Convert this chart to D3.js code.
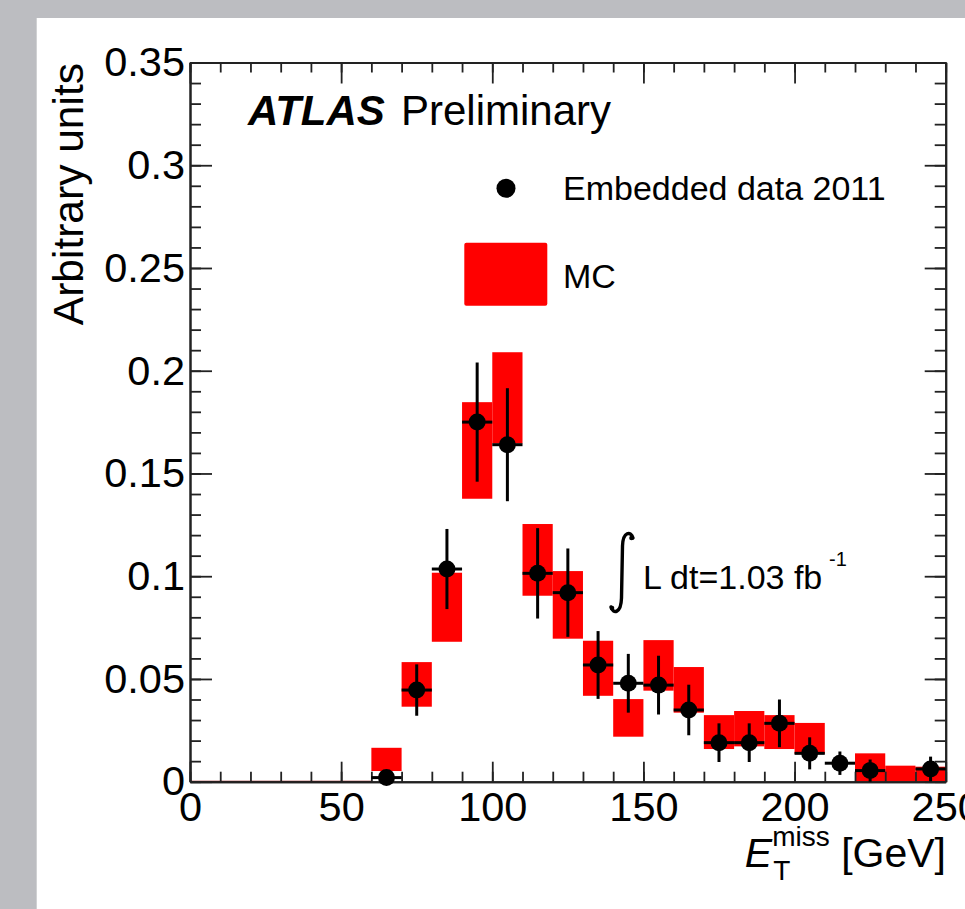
<!DOCTYPE html>
<html><head><meta charset="utf-8">
<script src="https://cdn.jsdelivr.net/npm/d3@7/dist/d3.min.js"></script>
<style>
body{margin:0;background:#bcbdc1;overflow:hidden}
svg{display:block}
text{font-family:"Liberation Sans",Arial,Helvetica,sans-serif;fill:#000}
</style>
</head><body>
<svg id="c" width="965" height="909"></svg>
<script>
// ---- data ----
const binLow      = [60, 70, 80, 90, 100, 110, 120, 130, 140, 150, 160, 170, 180, 190, 200, 210, 220, 230, 240];
const binWidth    = 10;
const dataValues  = [0.002, 0.0446, 0.1035, 0.175, 0.164, 0.1014, 0.092, 0.0568, 0.0479, 0.047, 0.0349, 0.019, 0.019, 0.0284, 0.0138, 0.009, 0.0054, null, 0.0062];
const dataErrors  = [0.001, 0.0125, 0.0195, 0.029, 0.0275, 0.022, 0.0215, 0.0165, 0.0143, 0.0143, 0.0123, 0.0094, 0.0094, 0.0116, 0.0078, 0.0057, 0.0054, null, 0.006];
const mcLow       = [0.0052, 0.0365, 0.0681, 0.1377, 0.1646, 0.0905, 0.0696, 0.0418, 0.0219, 0.0443, 0.0336, 0.0159, 0.0172, 0.0159, 0.0135, null, 0, 0, 0];
const mcHigh      = [0.0165, 0.0582, 0.1017, 0.1847, 0.209, 0.1254, 0.1025, 0.0686, 0.0402, 0.0689, 0.0558, 0.0324, 0.0344, 0.0324, 0.0286, null, 0.0138, 0.0078, 0.0073];
const emptyRange  = [0, 60];
const xTickValues = [0, 50, 100, 150, 200, 250];
const xTickLabels = ["0", "50", "100", "150", "200", "250"];
const yTickValues = [0, 0.05, 0.1, 0.15, 0.2, 0.25, 0.3, 0.35];
const yTickLabels = ["0", "0.05", "0.1", "0.15", "0.2", "0.25", "0.3", "0.35"];
const xMinorTicks = d3.range(0, 251, 10);
const yMinorTicks = d3.range(0, 0.351, 0.01);

// ---- layout ----
const svg = d3.select("#c");
const L = 190, R = 945.7, T = 62.5, B = 781.7;
const x = d3.scaleLinear().domain([0, 250]).range([L, R]);
const y = d3.scaleLinear().domain([0, 0.35]).range([B, T]);

// white panel
svg.append("rect").attr("x", 36.7).attr("y", 18).attr("width", 965).attr("height", 909).attr("fill", "#fff");

// MC band
const bins = binLow.map((lo, i) => ({lo, d: dataValues[i], e: dataErrors[i], ml: mcLow[i], mh: mcHigh[i]}));
svg.append("line").attr("x1", x(emptyRange[0])).attr("x2", x(emptyRange[1]))
  .attr("y1", y(0)).attr("y2", y(0)).attr("stroke", "#8b0000").attr("stroke-width", 2);
svg.append("g").selectAll("rect").data(bins.filter(b => b.mh != null)).join("rect")
  .attr("x", b => x(b.lo)).attr("width", b => x(b.lo + binWidth) - x(b.lo))
  .attr("y", b => y(b.mh)).attr("height", b => y(b.ml) - y(b.mh))
  .attr("fill", "#ff0000");

// axes (ROOT style: ticks inside, on all four sides)
function styleAxis(g) {
  g.select(".domain").attr("stroke", "#222").attr("stroke-width", 2);
  g.selectAll(".tick line").attr("stroke", "#222").attr("stroke-width", 1.8);
  g.selectAll(".tick text").attr("font-size", 41.5).attr("font-family", "Liberation Sans, Arial, sans-serif").attr("fill", "#000");
}
// minor
svg.append("g").attr("transform", `translate(0,${B})`)
  .call(d3.axisBottom(x).tickValues(xMinorTicks).tickSize(-10).tickFormat("").tickSizeOuter(0)).call(styleAxis);
svg.append("g").attr("transform", `translate(0,${T})`)
  .call(d3.axisTop(x).tickValues(xMinorTicks).tickSize(-10).tickFormat("").tickSizeOuter(0)).call(styleAxis);
svg.append("g").attr("transform", `translate(${L},0)`)
  .call(d3.axisLeft(y).tickValues(yMinorTicks).tickSize(-11).tickFormat("").tickSizeOuter(0)).call(styleAxis);
svg.append("g").attr("transform", `translate(${R},0)`)
  .call(d3.axisRight(y).tickValues(yMinorTicks).tickSize(-11).tickFormat("").tickSizeOuter(0)).call(styleAxis);
// major
svg.append("g").attr("transform", `translate(0,${B})`)
  .call(d3.axisBottom(x).tickValues(xTickValues).tickSize(-20).tickPadding(10).tickSizeOuter(0)
    .tickFormat((d, i) => xTickLabels[i])).call(styleAxis);
svg.append("g").attr("transform", `translate(0,${T})`)
  .call(d3.axisTop(x).tickValues(xTickValues).tickSize(-21).tickFormat("").tickSizeOuter(0)).call(styleAxis);
svg.append("g").attr("transform", `translate(${L},0)`)
  .call(d3.axisLeft(y).tickValues(yTickValues).tickSize(-22).tickPadding(5).tickSizeOuter(0)
    .tickFormat((d, i) => yTickLabels[i])).call(styleAxis);
svg.append("g").attr("transform", `translate(${R},0)`)
  .call(d3.axisRight(y).tickValues(yTickValues).tickSize(-21).tickFormat("").tickSizeOuter(0)).call(styleAxis);

// data points with error bars
const pts = bins.filter(b => b.d != null);
const gp = svg.append("g");
gp.selectAll("line.h").data(pts).join("line").attr("class", "h")
  .attr("x1", b => x(b.lo)).attr("x2", b => x(b.lo + binWidth))
  .attr("y1", b => y(b.d)).attr("y2", b => y(b.d)).attr("stroke", "#000").attr("stroke-width", 3);
gp.selectAll("line.v").data(pts).join("line").attr("class", "v")
  .attr("x1", b => x(b.lo + binWidth / 2)).attr("x2", b => x(b.lo + binWidth / 2))
  .attr("y1", b => y(Math.max(0, b.d - b.e))).attr("y2", b => y(b.d + b.e)).attr("stroke", "#000").attr("stroke-width", 3);
gp.selectAll("circle").data(pts).join("circle")
  .attr("cx", b => x(b.lo + binWidth / 2)).attr("cy", b => y(b.d)).attr("r", 8.5).attr("fill", "#000");

// axis titles
svg.append("text").attr("transform", "translate(83,63) rotate(-90)").attr("text-anchor", "end")
  .attr("font-size", 42.5).text("Arbitrary units");
const xt = svg.append("text").attr("x", 946).attr("y", 867).attr("text-anchor", "end").attr("font-size", 41);
xt.append("tspan").attr("font-style", "italic").text("E");
xt.append("tspan").attr("font-size", 28).attr("dy", 13).attr("dx", 1).text("T");
xt.append("tspan").attr("font-size", 28).attr("dy", -34).attr("dx", -18).text("miss");
xt.append("tspan").attr("dy", 21).text(" [GeV]");

// ATLAS label
svg.append("text").attr("x", 248).attr("y", 124.5).attr("font-size", 42)
  .attr("font-weight", "bold").attr("font-style", "italic").text("ATLAS");
svg.append("text").attr("x", 401).attr("y", 124.5).attr("font-size", 42).text("Preliminary");

// legend
svg.append("circle").attr("cx", 506).attr("cy", 188.3).attr("r", 9.5).attr("fill", "#000");
svg.append("text").attr("x", 563).attr("y", 199.5).attr("font-size", 34).text("Embedded data 2011");
svg.append("rect").attr("x", 464.3).attr("y", 242.7).attr("width", 83).attr("height", 63).attr("rx", 2).attr("fill", "#ff0000");
svg.append("text").attr("x", 563).attr("y", 288).attr("font-size", 34).text("MC");

// luminosity
const ip = d3.path();
ip.moveTo(633, 538);
ip.bezierCurveTo(631, 531, 623, 531, 622.5, 546);
ip.lineTo(621.5, 598);
ip.bezierCurveTo(621, 614, 613, 614, 611, 607);
svg.append("path").attr("d", ip.toString()).attr("fill", "none").attr("stroke", "#000")
  .attr("stroke-width", 3.4).attr("stroke-linecap", "round");
svg.append("circle").attr("cx", 631.5).attr("cy", 538).attr("r", 2.3).attr("fill", "#000");
svg.append("circle").attr("cx", 612).attr("cy", 608).attr("r", 2.3).attr("fill", "#000");
svg.append("text").attr("x", 643).attr("y", 588.5).attr("font-size", 34).text("L dt=1.03 fb");
svg.append("text").attr("x", 829).attr("y", 566).attr("font-size", 20).text("-1");
</script>
</body></html>
